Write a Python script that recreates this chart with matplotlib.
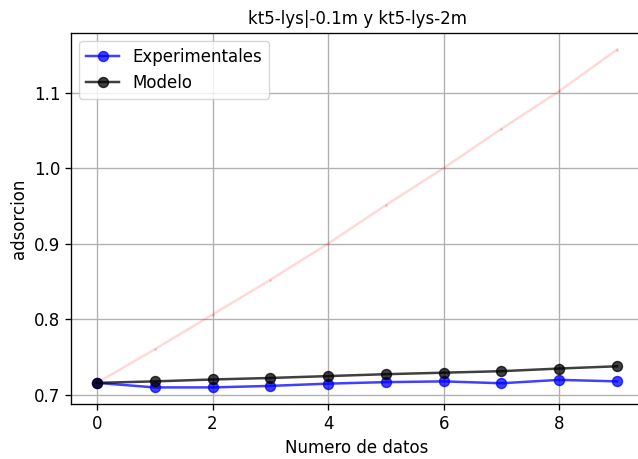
import numpy as np
import matplotlib.pyplot as plt

# datos
x = np.arange(10)
experimental = [0.7155, 0.7095, 0.7095, 0.7115, 0.7145, 0.7165, 0.7175, 0.715, 0.7195, 0.7175]
modelo = [0.7155, 0.7175, 0.72, 0.722, 0.7245, 0.727, 0.729, 0.731, 0.7345, 0.7375]
referencia = [0.7155, 0.760, 0.806, 0.852, 0.900, 0.951, 1.000, 1.052, 1.102, 1.157]

# todo un poco mas grande (como una figura guardada a mas dpi)
s = 1.2
plt.rcParams.update({
    "font.size": 10 * s,
    "lines.linewidth": 1.5 * s,
    "lines.markersize": 6 * s,
    "axes.linewidth": 0.8 * s,
    "grid.linewidth": 0.8 * s,
    "xtick.major.size": 3.5 * s,
    "ytick.major.size": 3.5 * s,
    "xtick.major.width": 0.8 * s,
    "ytick.major.width": 0.8 * s,
})

fig = plt.figure(figsize=(6.38, 4.59), dpi=100)
ax = fig.add_axes([71 / 638, 1 - 404.3 / 459, 572 / 638, 371.6 / 459])

ax.plot(x, referencia, color="red", alpha=0.15, marker="o", markersize=1)
ax.plot(x, experimental, "b-o", alpha=0.75, label="Experimentales")
ax.plot(x, modelo, "k-o", alpha=0.75, label="Modelo")

ax.set_title("kt5-lys|-0.1m y kt5-lys-2m", fontsize=10 * s)
ax.set_xlabel("Numero de datos")
ax.set_ylabel("adsorcion")
ax.grid(True)
ax.legend(loc="upper left")

fig.savefig("out.png", dpi=100)
